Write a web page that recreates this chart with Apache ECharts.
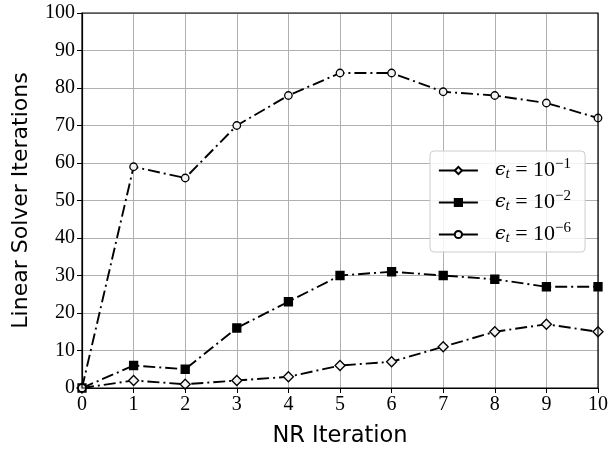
<!DOCTYPE html>
<html><head><meta charset="utf-8">
<script src="https://cdn.jsdelivr.net/npm/echarts@6/dist/echarts.min.js"></script>
<style>html,body{margin:0;padding:0;background:#fff}#c{width:609px;height:455px}</style>
</head><body><div id="c"></div>
<script>
const xTicks = [0,1,2,3,4,5,6,7,8,9,10];
const series1 = [0,2,1,2,3,6,7,11,15,17,15];
const series2 = [0,6,5,16,23,30,31,30,29,27,27];
const series3 = [0,59,56,70,78,84,84,79,78,76,72];
const exponents = ['−1','−2','−6'];
const names = ['s1','s2','s3'];

const chart = echarts.init(document.getElementById('c'));
const dash = [12,4,2,4];
function mk(name, data, symbol, size, fill){
  return {name, type:'line', data:data.map((v,i)=>[xTicks[i],v]), symbol, symbolSize:size,
    showAllSymbol:true, itemStyle:{color:fill, borderColor:'#000', borderWidth:1.3},
    lineStyle:{color:'#000', width:1.9, type:dash}, z:3, animation:false};
}
chart.setOption({
  animation:false,
  grid:{left:82, right:11, top:13, bottom:67, containLabel:false, outerBoundsMode:'none'},
  xAxis:{type:'value', min:0, max:10, interval:1, name:'NR Iteration', nameLocation:'middle', nameGap:37,
    nameTextStyle:{fontFamily:'DejaVu Sans', fontSize:22.5, color:'#000'},
    axisLine:{show:true, lineStyle:{color:'#000', width:1.2}},
    axisTick:{show:true, inside:false, length:5, lineStyle:{color:'#000'}},
    axisLabel:{fontFamily:'Liberation Serif', fontSize:20, color:'#000', margin:7},
    splitLine:{show:true, lineStyle:{color:'#b0b0b0', width:1}}},
  yAxis:{type:'value', min:0, max:100, interval:10, name:'Linear Solver Iterations', nameLocation:'middle', nameGap:50,
    nameTextStyle:{fontFamily:'DejaVu Sans', fontSize:22, color:'#000'},
    axisLine:{show:true, lineStyle:{color:'#000', width:1.2}},
    axisTick:{show:true, length:5, lineStyle:{color:'#000'}},
    axisLabel:{fontFamily:'Liberation Serif', fontSize:20, color:'#000', margin:7},
    splitLine:{show:true, lineStyle:{color:'#b0b0b0', width:1}}},
  legend:{orient:'vertical', left:430, top:151, itemWidth:39, itemHeight:9, itemGap:7,
    padding:[6,14,6,8], backgroundColor:'rgba(255,255,255,0.85)', borderColor:'#ccc', borderWidth:1, borderRadius:4,
    lineStyle:{type:'solid', width:1.8},
    data:names,
    formatter:function(n){const e=exponents[names.indexOf(n)]; return '{e|ϵ}{s|t}{n| = 10}{p|'+e+'}';},
    textStyle:{fontFamily:'Liberation Serif', fontSize:20, color:'#000',
      rich:{e:{fontFamily:'DejaVu Serif', fontStyle:'italic', fontSize:19, padding:[0,0,0,12]},
            s:{fontFamily:'Liberation Serif', fontStyle:'italic', fontSize:15, padding:[8,0,0,0]},
            n:{fontFamily:'Liberation Serif', fontSize:22},
            p:{fontFamily:'Liberation Serif', fontSize:15, padding:[0,0,12,0]}}}},
  graphic:[{type:'rect', shape:{x:82,y:13,width:516,height:375}, style:{fill:'none', stroke:'#000', lineWidth:1.2}, z:10, silent:true}],
  series:[mk('s1',series1,'diamond',10,'#f2f2f2'), mk('s2',series2,'rect',8,'#000'), mk('s3',series3,'circle',7.5,'#f2f2f2')]
});
</script></body></html>
